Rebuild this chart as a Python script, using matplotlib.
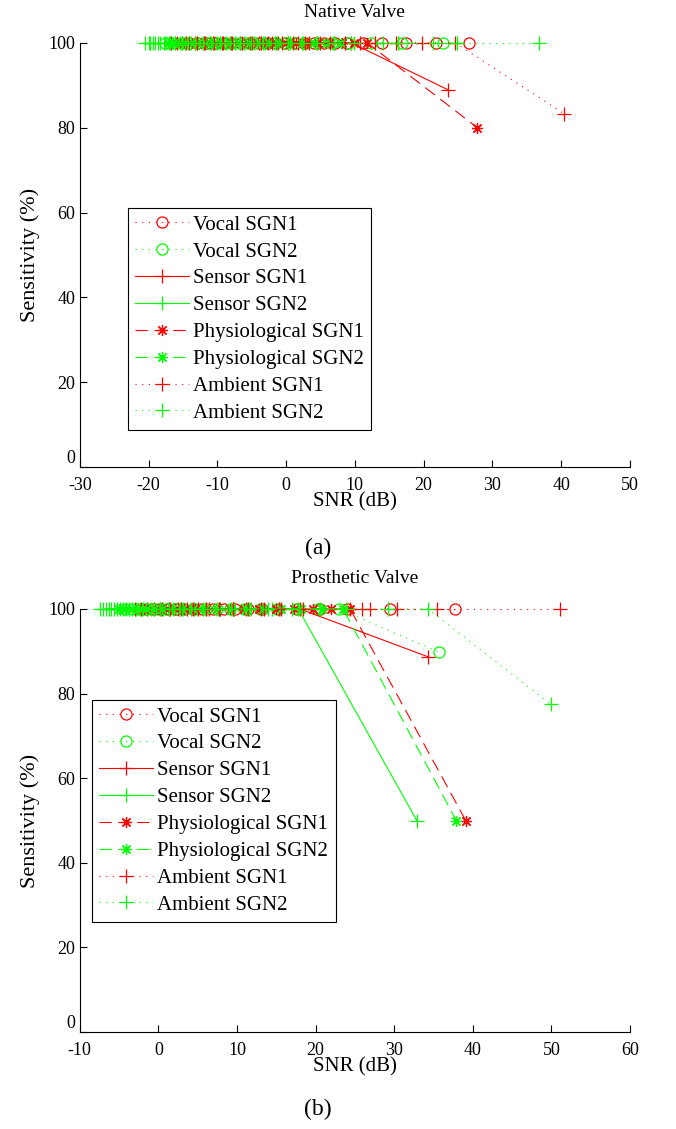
import matplotlib
matplotlib.use('Agg')
import matplotlib.pyplot as plt

plt.rcParams['font.family'] = ['Liberation Serif', 'DejaVu Serif']
plt.rcParams['axes.unicode_minus'] = False

# ---- Native valve (a) ----
nv_vocal1_x = [-12.9, -11.6, -10.3, -9.1, -8.0, -6.6, -5.2, -3.9, -2.7, -1.4, -0.1,
               1.3, 2.6, 4.0, 5.5, 7.1, 8.8, 11.2, 14.0, 17.5, 21.8, 26.6]
nv_vocal1_y = [100] * len(nv_vocal1_x)
nv_vocal2_x = [-17.6, -16.5, -15.3, -14.1, -12.8, -11.4, -10.0, -8.7, -7.3, -5.9, -4.5,
               -3.0, -1.6, -0.2, 1.3, 2.9, 4.6, 6.6, 9.0, 12.3, 16.8, 22.8]
nv_vocal2_y = [100] * len(nv_vocal2_x)
nv_sensor1_x = [-16.8, -15.8, -14.6, -13.3, -12.0, -10.6, -9.3, -8.0, -6.7, -5.3, -4.0,
                -2.6, -1.2, 0.3, 1.8, 3.3, 4.9, 6.9, 9.5, 23.6]
nv_sensor1_y = [100] * 19 + [88.9]
nv_sensor2_x = [-20.5, -19.8, -19.0, -18.3, -17.5, -16.9, -16.2, -15.5, -14.7, -13.9, -13.0,
                -12.1, -11.1, -10.0, -8.8, -7.5, -6.1, -4.6, -3.0, -1.3, 0.5, 2.4, 4.5,
                6.8, 9.4, 12.9, 16.3, 21.4, 24.9]
nv_sensor2_y = [100] * len(nv_sensor2_x)
nv_phys1_x = [-16.0, -14.9, -13.7, -12.4, -11.0, -9.6, -8.2, -6.9, -5.5, -4.1, -2.8,
              -1.4, 0.0, 1.5, 3.0, 4.6, 6.3, 8.1, 9.9, 11.8, 27.8]
nv_phys1_y = [100] * 20 + [80.0]
nv_phys2_x = [-17.2, -16.4, -15.6, -14.7, -13.8, -12.8, -11.7, -10.6, -9.4, -8.1, -6.8,
              -5.4, -4.0, -2.5, -1.0, 0.6, 2.3, 4.1, 6.0, 8.0]
nv_phys2_y = [100] * len(nv_phys2_x)
nv_amb1_x = [-15.2, -14.1, -13.0, -11.8, -10.5, -9.2, -7.8, -6.4, -5.0, -3.6, -2.1,
             -0.6, 1.0, 2.7, 4.5, 6.4, 8.5, 10.7, 12.9, 16.0, 19.8, 24.6, 40.4]
nv_amb1_y = [100] * 22 + [83.3]
nv_amb2_x = [-20.0, -19.3, -18.6, -17.8, -17.0, -16.1, -15.2, -14.2, -13.2, -12.1, -10.9,
             -9.6, -8.2, -6.7, -5.1, -3.4, -1.6, 0.3, 2.3, 4.5, 7.0, 9.8, 14.1, 16.3,
             24.9, 36.8]
nv_amb2_y = [100] * len(nv_amb2_x)

# ---- Prosthetic valve (b) ----
pv_vocal1_x = [-2.2, -1.4, -0.6, 0.3, 1.2, 2.2, 3.3, 4.4, 5.6, 6.9, 8.3, 9.8, 11.4,
               13.2, 15.2, 17.6, 20.5, 24.0, 29.5, 37.7]
pv_vocal1_y = [100] * len(pv_vocal1_x)
pv_vocal2_x = [-4.2, -3.4, -2.6, -1.8, -0.9, 0.0, 1.0, 2.1, 3.3, 4.6, 6.0, 7.5, 9.1,
               10.9, 12.9, 15.1, 17.6, 20.3, 23.0, 35.7]
pv_vocal2_y = [100] * 19 + [89.8]
pv_sensor1_x = [-3.0, -2.2, -1.4, -0.5, 0.4, 1.4, 2.5, 3.7, 5.0, 6.4, 7.9, 9.5, 11.2,
                13.1, 15.3, 18.0, 34.3]
pv_sensor1_y = [100] * 16 + [88.7]
pv_sensor2_x = [-7.0, -6.3, -5.6, -4.9, -4.1, -3.3, -2.4, -1.5, -0.5, 0.6, 1.8, 3.1, 4.5,
                6.0, 7.7, 9.6, 11.8, 14.5, 17.8, 32.9]
pv_sensor2_y = [100] * 19 + [49.9]
pv_phys1_x = [-1.8, -0.9, 0.0, 1.0, 2.1, 3.3, 4.6, 6.0, 7.5, 9.1, 10.9, 12.8, 14.9,
              17.2, 19.7, 22.0, 24.4, 39.1]
pv_phys1_y = [100] * 17 + [50.0]
pv_phys2_x = [-5.0, -4.2, -3.4, -2.5, -1.6, -0.6, 0.5, 1.7, 3.0, 4.4, 5.9, 7.5, 9.3,
              11.2, 13.3, 15.6, 18.1, 20.8, 23.5, 37.9]
pv_phys2_y = [100] * 19 + [50.0]
pv_amb1_x = [0.2, 1.5, 2.9, 4.4, 6.0, 7.7, 9.5, 11.4, 13.4, 15.6, 18.4, 24.4, 25.9,
             26.9, 30.3, 35.5, 51.1]
pv_amb1_y = [100] * len(pv_amb1_x)
pv_amb2_x = [-7.4, -6.7, -6.0, -5.3, -4.5, -3.7, -2.8, -1.9, -0.9, 0.2, 1.4, 2.7, 4.1,
             5.7, 7.4, 9.3, 11.5, 14.0, 17.0, 20.5, 24.0, 29.2, 34.3, 49.9]
pv_amb2_y = [100] * 23 + [77.5]

labels = ['Vocal SGN1', 'Vocal SGN2', 'Sensor SGN1', 'Sensor SGN2',
          'Physiological SGN1', 'Physiological SGN2', 'Ambient SGN1', 'Ambient SGN2']

red = '#ff0000'
green = '#00ff00'
dotted = (0, (1, 5))
dashed = (0, (11, 6))
star = (8, 2, 0)   # MATLAB style asterisk
styles = [(red, 'o', dotted), (green, 'o', dotted), (red, '+', '-'), (green, '+', '-'),
          (red, star, dashed), (green, star, dashed), (red, '+', dotted), (green, '+', dotted)]
sizes = [8, 8, 9.5, 9.5, 8, 8, 9.5, 9.5]

native = [(nv_vocal1_x, nv_vocal1_y), (nv_vocal2_x, nv_vocal2_y),
          (nv_sensor1_x, nv_sensor1_y), (nv_sensor2_x, nv_sensor2_y),
          (nv_phys1_x, nv_phys1_y), (nv_phys2_x, nv_phys2_y),
          (nv_amb1_x, nv_amb1_y), (nv_amb2_x, nv_amb2_y)]
prosthetic = [(pv_vocal1_x, pv_vocal1_y), (pv_vocal2_x, pv_vocal2_y),
              (pv_sensor1_x, pv_sensor1_y), (pv_sensor2_x, pv_sensor2_y),
              (pv_phys1_x, pv_phys1_y), (pv_phys2_x, pv_phys2_y),
              (pv_amb1_x, pv_amb1_y), (pv_amb2_x, pv_amb2_y)]

fig = plt.figure(figsize=(6.76, 11.29), dpi=100)
ax1 = fig.add_axes([0.118, 0.5864, 0.814, 0.3756])
ax2 = fig.add_axes([0.118, 0.0859, 0.814, 0.3747])


def draw(ax, series, title, xlim, xticks, legpos):
    for (x, y), lab, (c, m, ls), ms in zip(series, labels, styles, sizes):
        ax.plot(x, y, color=c, marker=m, linestyle=ls, linewidth=0.8,
                markersize=ms, markerfacecolor='none', markeredgewidth=0.9,
                label=lab, clip_on=False)
    ax.set_xlim(*xlim)
    ax.set_ylim(0, 100)
    ax.set_xticks(xticks)
    ax.set_yticks([0, 20, 40, 60, 80, 100])
    ax.spines['top'].set_visible(False)
    ax.spines['right'].set_visible(False)
    ax.tick_params(direction='in', length=5, labelsize=13, width=0.8)
    ax.tick_params(axis='x', pad=7)
    ax.tick_params(axis='y', pad=3)
    # lift the "0" label a little, as in the original
    ax.get_yticklabels()[0].set_va('bottom')
    ax.set_title(title, fontsize=14, pad=19)
    ax.set_xlabel('SNR (dB)', fontsize=15, labelpad=-1)
    ax.set_ylabel('Sensitivity (%)', fontsize=16, labelpad=6)
    leg = ax.legend(loc='lower left', bbox_to_anchor=legpos, fontsize=15,
                    fancybox=False, framealpha=1, edgecolor='black',
                    handlelength=2.6, labelspacing=0.35, borderpad=0.35,
                    handletextpad=0.2, borderaxespad=0)
    leg.get_frame().set_linewidth(0.8)


draw(ax1, native, 'Native Valve', (-30, 50), range(-30, 51, 10), (0.087, 0.087))
draw(ax2, prosthetic, 'Prosthetic Valve', (-10, 60), range(-10, 61, 10), (0.022, 0.260))

fig.text(0.47, 0.514, '(a)', fontsize=17, ha='center', va='center')
fig.text(0.47, 0.017, '(b)', fontsize=17, ha='center', va='center')

fig.savefig('out.png', dpi=100)
